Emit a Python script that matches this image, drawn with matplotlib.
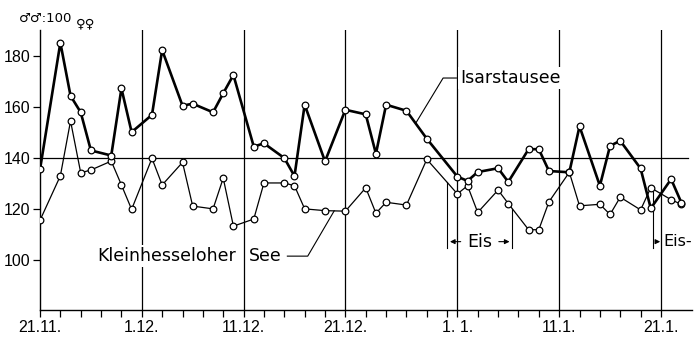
import numpy as np
import matplotlib.pyplot as plt

plt.rcParams['font.family'] = 'DejaVu Sans'

# Tage ab 21.11.
days = [0, 2, 3, 4, 5, 7, 8, 9, 11, 12, 14, 15, 17, 18, 19, 21, 22, 24, 25, 26, 28,
        30, 32, 33, 34, 36, 38, 41, 42, 43, 45, 46, 48, 49, 50, 52, 53, 55, 56, 57,
        59, 60, 62, 63]
isar = [135.5, 185.4, 164.5, 158.0, 143.0, 141.0, 167.4, 150.2, 157.0, 182.5, 160.6,
        161.4, 158.0, 165.5, 172.7, 144.5, 145.8, 140.0, 132.9, 161.0, 138.7,
        159.0, 157.2, 141.7, 161.0, 158.6, 147.6, 132.7, 131.0, 134.5, 136.0, 130.6,
        143.5, 143.5, 134.9, 134.4, 152.5, 129.1, 144.8, 146.8, 135.9, 120.2, 131.7,
        122.5]
klein = [115.5, 133.0, 154.6, 134.2, 135.3, 138.8, 129.4, 119.8, 139.9, 129.4, 138.3,
         121.1, 120.0, 132.1, 113.2, 116.0, 130.2, 130.2, 129.1, 120.0, 119.3,
         119.1, 128.3, 118.3, 122.6, 121.5, 139.5, 125.9, 129.1, 118.6, 127.4, 122.1,
         111.8, 111.8, 122.8, 134.4, 121.2, 121.8, 117.8, 124.6, 119.6, 128.3, 123.6,
         121.8]

major_days = [0, 10, 20, 30, 41, 51, 61]
major_labels = ['21.11.', '1.12.', '11.12.', '21.12.', '1. 1.', '11.1.', '21.1.']
minor_days = [2, 4, 6, 8, 12, 14, 16, 18, 22, 24, 26, 28, 32, 34, 36, 38, 40,
              43, 45, 47, 49, 53, 55, 57, 59]
y_ticks = [100, 120, 140, 160, 180]

# Eisbedeckung Kleinhesseloher See
eis1 = (40.0, 46.4)
eis2_start = 60.2
eis_level = 107.1

tick_font = 'Liberation Sans'

W, H = 695, 339
fig = plt.figure(figsize=(W / 100, H / 100), dpi=100)
ax = fig.add_axes([40 / W, 1 - 310 / H, (692 - 40) / W, (310 - 30) / H])
ax.set_xlim(0, 64.05)
ax.set_ylim(80.2, 190.4)

for s in ['top', 'right']:
    ax.spines[s].set_visible(False)
for s in ['left', 'bottom']:
    ax.spines[s].set_linewidth(1.0)

for d in major_days[1:]:
    ax.axvline(d, color='k', lw=0.9, zorder=1)
ax.axhline(140, xmax=0.994, color='k', lw=0.9, zorder=1)

ax.plot(days, klein, '-o', color='k', lw=0.9, ms=4.8, mfc='white', mew=0.9, zorder=3)
ax.plot(days, isar, '-o', color='k', lw=1.9, ms=4.8, mfc='white', mew=0.9, zorder=4)

ax.set_xticks(major_days)
ax.set_xticklabels(major_labels, family=tick_font, fontsize=11.5)
ax.set_xticks(minor_days, minor=True)
ax.set_yticks(y_ticks)
ax.set_yticklabels([str(v) for v in y_ticks], family=tick_font, fontsize=11.5)
ax.tick_params(which='both', direction='out', length=5, width=0.9, pad=2)

box = dict(facecolor='white', edgecolor='none', pad=1.5)
fs = 12.5

# Isarstausee
ax.text(41.3, 171.5, 'Isarstausee', fontsize=fs, va='center', ha='left', bbox=box, zorder=5)
ax.plot([40.9, 39.6, 36.9], [171.5, 171.5, np.interp(36.9, days, isar)], color='k', lw=0.8, zorder=5)

# Kleinhesseloher See
ax.text(19.3, 101.4, 'Kleinhesseloher', fontsize=fs, va='center', ha='right', bbox=box, zorder=5)
ax.text(20.5, 101.4, 'See', fontsize=fs, va='center', ha='left', bbox=box, zorder=5)
ax.plot([24.3, 26.3, 28.9], [101.4, 101.4, np.interp(28.9, days, klein)], color='k', lw=0.8, zorder=5)

# Eis
for d in eis1:
    ax.plot([d, d], [eis_level - 2.5, np.interp(d, days, klein)], color='k', lw=0.8, zorder=2)
ax.text(43.2, eis_level, 'Eis', fontsize=fs, va='center', ha='center', bbox=box, zorder=5)
ax.annotate('', xy=(eis1[0], eis_level), xytext=(41.6, eis_level),
            arrowprops=dict(arrowstyle='-|>', color='k', lw=0.8, mutation_scale=7), zorder=5)
ax.annotate('', xy=(eis1[1], eis_level), xytext=(44.8, eis_level),
            arrowprops=dict(arrowstyle='-|>', color='k', lw=0.8, mutation_scale=7), zorder=5)

ax.plot([eis2_start, eis2_start], [eis_level - 2.5, np.interp(eis2_start, days, klein)],
        color='k', lw=0.8, zorder=2)
ax.annotate('', xy=(61.2, eis_level), xytext=(eis2_start, eis_level),
            arrowprops=dict(arrowstyle='-|>', color='k', lw=0.8, mutation_scale=7), zorder=5)
ax.text(61.25, eis_level, 'Eis-', fontsize=11.5, va='center', ha='left',
        bbox=dict(facecolor='white', edgecolor='none', pad=0.5), zorder=5)

# Verhältnis Männchen : Weibchen
fig.text(19 / W, 1 - 18 / H, '\u2642\u2642:100', fontsize=9.5, va='center', ha='left')
fig.text(76 / W, 1 - 24 / H, '\u2640\u2640', fontsize=9.5, va='center', ha='left')

fig.savefig('out.png', dpi=100)
